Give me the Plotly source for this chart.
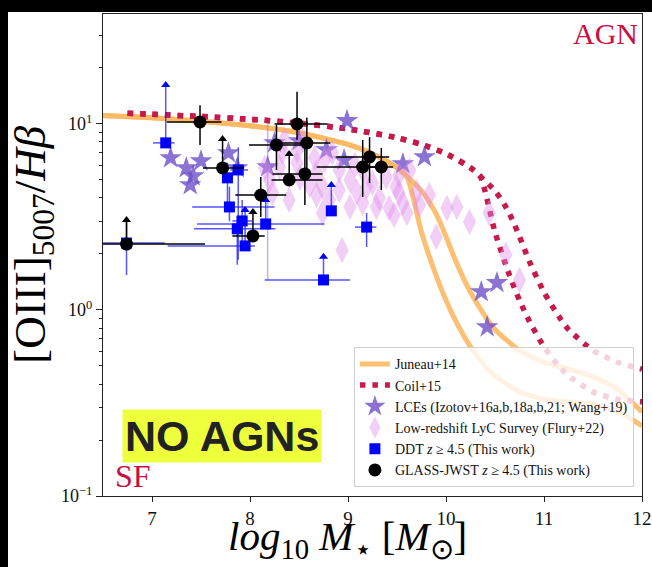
import plotly.graph_objects as go

# ---------------- demarcation curves (log10 [OIII]/Hbeta vs log10 M*) ----------------
juneau_upper_x = [6.5, 7.0, 7.5, 8.0, 8.5, 9.0, 9.25, 9.5, 9.75, 9.85, 9.9, 9.95, 10.0,
                  10.1, 10.25, 10.4, 10.5, 10.75, 11.0, 11.25, 11.5, 11.75, 12.0]
juneau_upper_logy = [1.046, 1.033, 1.015, 0.990, 0.953, 0.890, 0.840, 0.765, 0.640, 0.563,
                     0.515, 0.458, 0.395, 0.262, 0.095, -0.034, -0.105, -0.218, -0.281,
                     -0.318, -0.359, -0.426, -0.549]
juneau_lower_x = [6.5, 7.0, 7.5, 8.0, 8.5, 9.0, 9.25, 9.5, 9.6, 9.75, 9.9, 10.0, 10.1,
                  10.25, 10.4, 10.5, 10.75, 11.0, 11.25, 11.5, 11.75, 12.0]
juneau_lower_logy = [1.046, 1.033, 1.015, 0.990, 0.953, 0.890, 0.840, 0.765, 0.718, 0.418,
                     0.183, 0.052, -0.060, -0.198, -0.302, -0.354, -0.441, -0.480, -0.494,
                     -0.507, -0.544, -0.623]

coil_upper_x = [6.75, 7.0, 7.5, 8.0, 8.5, 9.0, 9.5, 9.75, 10.0, 10.25, 10.5, 10.6, 10.65,
                10.7, 10.75, 10.85, 11.0, 11.15, 11.25, 11.5, 11.75, 12.0]
coil_upper_logy = [1.057, 1.052, 1.040, 1.025, 1.004, 0.973, 0.926, 0.890, 0.840, 0.765,
                   0.640, 0.563, 0.515, 0.458, 0.395, 0.262, 0.095, -0.034, -0.105, -0.218,
                   -0.281, -0.318]
coil_lower_x = [6.75, 7.0, 7.5, 8.0, 8.5, 9.0, 9.5, 9.75, 10.0, 10.25, 10.35, 10.5, 10.65,
                10.75, 10.85, 11.0, 11.15, 11.25, 11.5, 11.75, 12.0]
coil_lower_logy = [1.057, 1.052, 1.040, 1.025, 1.004, 0.973, 0.926, 0.890, 0.840, 0.765,
                   0.718, 0.418, 0.183, 0.052, -0.060, -0.198, -0.302, -0.354, -0.441,
                   -0.480, -0.494]

# ---------------- LCEs (Izotov+16a,b,18a,b,21; Wang+19) ----------------
lce_mass = [7.19, 7.35, 7.50, 7.42, 7.39, 7.78, 7.87, 8.18, 8.50, 8.25, 8.78, 8.96, 8.99,
            9.56, 9.78, 10.36, 10.52, 10.42]
lce_ratio = [6.57, 5.80, 6.32, 5.25, 4.70, 6.98, 5.80, 5.87, 8.11, 7.91, 7.25, 6.40, 10.4,
             6.10, 6.65, 1.25, 1.40, 0.81]
lce_ratio_hi = [6.57, 5.80, 6.32, 5.25, 4.70, 6.98, 5.80, 10.1, 8.11, 7.91, 7.25, 6.40, 10.4,
                6.10, 6.65, 1.25, 1.40, 0.81]
lce_ratio_lo = [6.57, 5.80, 6.32, 5.25, 4.70, 6.98, 5.80, 1.45, 8.11, 7.91, 7.25, 6.40, 10.4,
                6.10, 6.65, 1.25, 1.40, 0.81]

# ---------------- Low-redshift LyC Survey (Flury+22) ----------------
lzlcs_mass = [8.33, 8.30, 8.48, 8.48, 8.66, 8.68, 8.84, 8.91, 8.91, 8.74, 8.81, 9.02, 9.09,
              9.15, 9.25, 9.32, 9.39, 9.49, 9.56, 9.42, 9.29, 9.15, 9.63, 9.70, 9.52, 8.23,
              8.40, 8.20, 8.68, 9.02, 8.74, 9.60, 9.52, 10.01, 10.11, 10.24, 9.90, 10.44,
              10.61, 10.75, 8.94, 8.51, 8.61, 9.07, 8.35, 8.54, 9.19, 9.73, 9.47, 8.15,
              9.83, 8.76]
lzlcs_ratio = [7.07, 5.87, 7.25, 6.17, 6.57, 5.52, 6.98, 5.66, 4.42, 4.59, 3.90, 5.00, 4.31,
               5.66, 4.82, 4.00, 5.19, 4.59, 3.76, 3.53, 3.58, 3.76, 5.66, 4.31, 5.32, 4.26,
               3.90, 5.00, 4.15, 3.58, 3.32, 3.32, 4.26, 3.53, 3.58, 2.97, 2.47, 3.32, 1.98,
               1.45, 2.10, 5.13, 4.70, 6.02, 8.20, 8.20, 4.59, 3.67, 3.24, 5.80, 4.15, 6.40]

# ---------------- DDT z >= 4.5 ----------------
ddt_mass = [7.14, 7.77, 7.88, 7.79, 7.92, 7.87, 7.95, 8.16, 8.75, 8.83, 9.19, 6.74]
ddt_mass_err_lo = [0.13, 0.05, 0.08, 0.38, 0.10, 0.44, 0.79, 0.70, 0.60, 0.00, 0.12, 0.24]
ddt_mass_err_hi = [0.09, 0.05, 0.10, 0.46, 0.10, 0.39, 0.10, 0.60, 0.27, 0.00, 0.10, 0.39]
ddt_ratio = [7.91, 5.13, 5.66, 3.58, 3.01, 2.73, 2.21, 2.90, 1.45, 3.41, 2.79, 2.29]
ddt_ratio_lo = [7.91, 3.45, 1.86, 3.00, 2.30, 1.75, 2.21, 2.90, 1.45, 3.41, 2.18, 1.54]
ddt_ratio_hi = [16.2, 6.20, 7.50, 4.60, 3.90, 3.20, 3.45, 3.90, 1.93, 4.70, 3.32, 3.05]
ddt_lower_limit = [True, False, False, False, False, False, True, True, True, True, False, False]

# ---------------- GLASS-JWST z >= 4.5 ----------------
glass_mass = [7.49, 7.72, 6.74, 8.03, 8.11, 8.27, 8.40, 8.48, 8.58, 8.56, 9.15, 9.22, 9.34]
glass_mass_err_lo = [0.34, 0.20, 0.24, 0.21, 0.26, 0.28, 0.18, 0.23, 0.30, 0.33, 0.47, 0.34, 0.25]
glass_mass_err_hi = [0.22, 0.22, 0.80, 0.12, 0.26, 0.28, 0.34, 0.31, 0.24, 0.18, 0.24, 0.20, 0.12]
glass_ratio = [10.25, 5.80, 2.26, 2.50, 4.15, 7.71, 5.00, 10.0, 7.90, 5.39, 5.87, 6.65, 5.87]
glass_ratio_lo = [7.70, 5.80, 2.26, 2.50, 3.16, 5.66, 5.00, 8.20, 5.00, 3.67, 4.05, 4.82, 4.42]
glass_ratio_hi = [12.6, 8.30, 3.05, 3.36, 5.19, 9.88, 6.90, 14.9, 10.8, 8.20, 8.20, 8.50, 7.43]
glass_lower_limit = [False, True, True, True, False, False, True, False, False, False, False,
                     False, False]

# ---------------- styling ----------------
SERIF = "Liberation Serif"
ORANGE = "rgba(253,184,99,0.9)"
CRIMSON = "#C8194B"
LCE_COLOR = "rgba(110,80,200,0.8)"
LZLCS_COLOR = "rgba(225,140,235,0.42)"
DDT_COLOR = "#0000FF"
DDT_ERR = "rgba(30,30,255,0.75)"

fig = go.Figure()


def ratio(logs):
    return [10 ** v for v in logs]


fig.add_trace(go.Scatter(x=juneau_upper_x, y=ratio(juneau_upper_logy), mode="lines",
                         line=dict(color=ORANGE, width=5, shape="spline", smoothing=0.6),
                         name="Juneau+14"))
fig.add_trace(go.Scatter(x=juneau_lower_x, y=ratio(juneau_lower_logy), mode="lines",
                         line=dict(color=ORANGE, width=5, shape="spline", smoothing=0.6),
                         showlegend=False))
fig.add_trace(go.Scatter(x=coil_upper_x, y=ratio(coil_upper_logy), mode="lines",
                         line=dict(color=CRIMSON, width=5.5, dash="5.5px,7px",
                                   shape="spline", smoothing=0.6),
                         name="Coil+15"))
fig.add_trace(go.Scatter(x=coil_lower_x, y=ratio(coil_lower_logy), mode="lines",
                         line=dict(color=CRIMSON, width=5.5, dash="5.5px,7px",
                                   shape="spline", smoothing=0.6),
                         showlegend=False))

fig.add_trace(go.Scatter(
    x=lce_mass, y=lce_ratio, mode="markers", name="LCEs (Izotov+16a,b,18a,b,21; Wang+19)",
    marker=dict(symbol="star", size=17, color=LCE_COLOR, line=dict(width=0)),
    error_y=dict(type="data", symmetric=False,
                 array=[h - v for h, v in zip(lce_ratio_hi, lce_ratio)],
                 arrayminus=[v - l for l, v in zip(lce_ratio_lo, lce_ratio)],
                 color="rgba(150,130,220,0.6)", thickness=1.5, width=0)))

fig.add_trace(go.Scatter(
    x=lzlcs_mass, y=lzlcs_ratio, mode="markers", name="Low-redshift LyC Survey (Flury+22)",
    marker=dict(symbol="diamond-tall", size=19, color=LZLCS_COLOR, line=dict(width=0))))


def add_sample(mass, m_lo, m_hi, val, v_lo, v_hi, limit, name, color, err_color, symbol, size):
    fig.add_trace(go.Scatter(
        x=mass, y=val, mode="markers", name=name,
        marker=dict(symbol=symbol, size=size, color=color, line=dict(width=0)),
        error_x=dict(type="data", symmetric=False, array=m_hi, arrayminus=m_lo,
                     color=err_color, thickness=1.5, width=0),
        error_y=dict(type="data", symmetric=False,
                     array=[h - v for h, v in zip(v_hi, val)],
                     arrayminus=[v - l for l, v in zip(v_lo, val)],
                     color=err_color, thickness=1.5, width=0)))
    # arrow heads at the top of lower-limit error bars
    tip_x = [m for m, f in zip(mass, limit) if f]
    tip_y = [h for h, f in zip(v_hi, limit) if f]
    fig.add_trace(go.Scatter(x=tip_x, y=tip_y, mode="markers", showlegend=False,
                             marker=dict(symbol="triangle-up", size=8, color=color)))


add_sample(ddt_mass, ddt_mass_err_lo, ddt_mass_err_hi, ddt_ratio, ddt_ratio_lo, ddt_ratio_hi,
           ddt_lower_limit, "DDT <i>z</i> ≥ 4.5 (This work)", DDT_COLOR, DDT_ERR, "square", 11)
add_sample(glass_mass, glass_mass_err_lo, glass_mass_err_hi, glass_ratio, glass_ratio_lo,
           glass_ratio_hi, glass_lower_limit, "GLASS-JWST <i>z</i> ≥ 4.5 (This work)",
           "black", "black", "circle", 13)

# ---------------- axes ----------------
minor_vals = [m * 10 ** e for e in (-1, 0, 1) for m in range(2, 10)]
fig.update_xaxes(range=[6.5, 12], tickvals=[7, 8, 9, 10, 11, 12], ticks="outside", ticklen=5,
                 tickcolor="#222", showline=True, linecolor="#222", linewidth=1, mirror=True,
                 showgrid=False, zeroline=False, automargin=False,
                 tickfont=dict(family=SERIF, size=19, color="#111"))
fig.update_yaxes(type="log", range=[-1, 1.591], tickvals=[0.1, 1, 10],
                 ticktext=["10<sup>−1</sup>", "10<sup>0</sup>", "10<sup>1</sup>"],
                 ticks="outside", ticklen=6, tickcolor="#222", showline=True, linecolor="#222",
                 linewidth=1, mirror=True, showgrid=False, zeroline=False, automargin=False,
                 tickfont=dict(family=SERIF, size=18, color="#111"),
                 minor=dict(tickvals=minor_vals, ticks="outside", ticklen=3, tickcolor="#222",
                            showgrid=False))

# ---------------- text ----------------
fig.add_annotation(text="[OIII]<sub>5007</sub>/<i>Hβ</i>", xref="paper", yref="paper",
                   x=-0.13, y=0.521, xanchor="center", yanchor="middle", textangle=-90,
                   showarrow=False, font=dict(family=SERIF, size=45, color="black"))
fig.add_annotation(text="<i>log</i><sub>10</sub> <i>M</i><sub>⋆</sub> [<i>M</i><sub>⊙</sub>]",
                   xref="paper", yref="paper", x=0.4545, y=-0.0895, xanchor="center",
                   yanchor="middle", showarrow=False,
                   font=dict(family=SERIF, size=41, color="black"))
fig.add_annotation(text="AGN", xref="paper", yref="paper", x=0.996, y=0.960,
                   xanchor="right", yanchor="middle", showarrow=False,
                   font=dict(family=SERIF, size=30, color="#C8103E"))
fig.add_annotation(text="SF", xref="paper", yref="paper", x=0.0186, y=0.041,
                   xanchor="left", yanchor="middle", showarrow=False,
                   font=dict(family=SERIF, size=32, color="#C8103E"))
fig.add_annotation(text="<b>NO AGNs</b>", xref="paper", yref="paper", x=0.2217, y=0.1245,
                   xanchor="center", yanchor="middle",
                   showarrow=False, bgcolor="#EEFF3C", borderpad=2,
                   font=dict(family="Liberation Sans", size=43, color="#222"))

# black frame strips along the top and left edges of the canvas
fig.add_shape(type="rect", xref="paper", yref="paper", x0=-0.1911, x1=1.0186, y0=1.0041,
              y1=1.029, fillcolor="black", line=dict(width=0), layer="above")
fig.add_shape(type="rect", xref="paper", yref="paper", x0=-0.1911, x1=-0.17625, y0=-0.1473,
              y1=1.029, fillcolor="black", line=dict(width=0), layer="above")

fig.update_layout(
    width=652, height=567,
    margin=dict(l=103, r=10, t=14, b=71),
    paper_bgcolor="white", plot_bgcolor="white",
    font=dict(family=SERIF, color="black"),
    legend=dict(x=0.985, y=0.018, xanchor="right", yanchor="bottom",
                bgcolor="rgba(255,255,255,0.8)", bordercolor="#d0d0d0", borderwidth=1,
                font=dict(family=SERIF, size=14, color="#111"), tracegroupgap=0),
)

fig.write_html("out.html")
